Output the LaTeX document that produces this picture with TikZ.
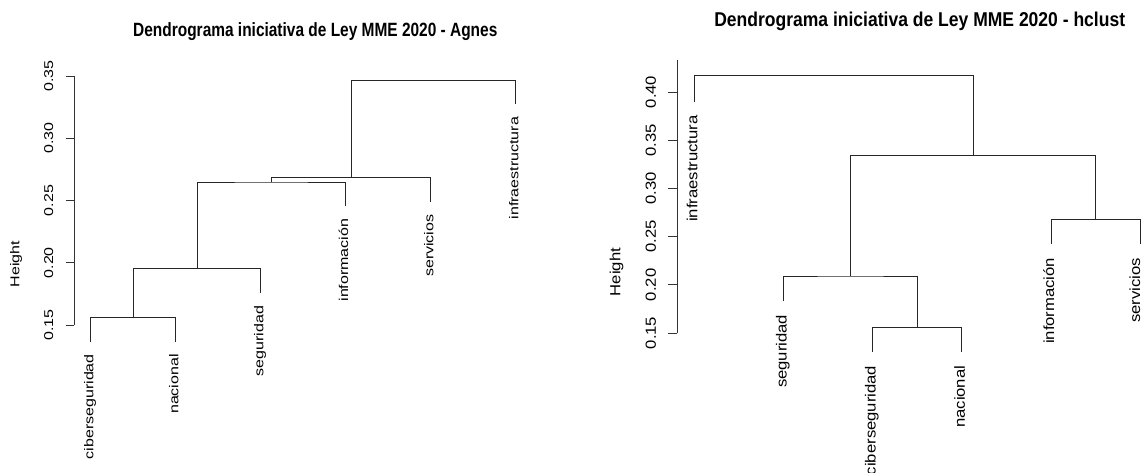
\documentclass[tikz,border=0pt]{standalone}
\usepackage{fontspec}
\setmainfont{Liberation Sans}
\begin{document}
\begin{tikzpicture}[x=0.75pt,y=-0.75pt,
  dline/.style={draw=black!85, line width=0.75pt},
  axline/.style={draw=black!80, line width=0.75pt},
  lblL/.style={font=\fontsize{12}{12}\selectfont, xscale=0.8, rotate=90, anchor=east, inner sep=0pt, text height=0.72em, text depth=0.21em},
  lblR/.style={font=\fontsize{12.5}{12.5}\selectfont, xscale=0.88, rotate=90, anchor=east, inner sep=0pt, text height=0.72em, text depth=0.21em},
  tickL/.style={font=\fontsize{12}{12}\selectfont, xscale=0.8, rotate=90, inner sep=0pt, text height=0.72em, text depth=0pt},
  tickR/.style={font=\fontsize{12.5}{12.5}\selectfont, xscale=0.88, rotate=90, inner sep=0pt, text height=0.72em, text depth=0pt},
  ylabL/.style={tickL, text depth=0.21em},
  ylabR/.style={tickR, text depth=0.21em},
  ttlL/.style={font=\fontsize{14.4}{14.4}\bfseries\selectfont, xscale=0.805, anchor=base, inner sep=0pt},
  ttlR/.style={font=\fontsize{15}{15}\bfseries\selectfont, xscale=0.876, anchor=base, inner sep=0pt}
]
\useasboundingbox[fill=white] (0,0) rectangle (1144,472);

% ---------------- Left: Agnes ----------------
\node[ttlL] (t1) at (315.3,36.5) {Dendrograma iniciativa de Ley MME 2020 - Agnes};
\coordinate (a1top) at (74,76);
\coordinate (a1bot) at (74,325);
\draw[axline] (a1top) -- (a1bot);
\foreach \v/\y [count=\i] in {0.35/76,0.30/138.25,0.25/200.5,0.20/262.75,0.15/325}{
  \coordinate (tk1-\i) at (74,\y);
  \draw[axline] (tk1-\i) -- ++(-8,0);
  \node[tickL] (tl1-\i) at (49.3,\y) {\v};
}
\node[ylabL] (h1) at (16.7,264) {Height};

% leaf ends
\coordinate (e1-cib) at (90.7,341.5);
\coordinate (e1-nac) at (175.7,341.5);
\coordinate (e1-seg) at (260.7,292.5);
\coordinate (e1-inf) at (345.3,206);
\coordinate (e1-ser) at (430.7,201.5);
\coordinate (e1-ifr) at (515.7,104.3);
% labels
\node[lblL] (l1-cib) at (90.7,354) {ciberseguridad};
\node[lblL] (l1-nac) at (175.7,354) {nacional};
\node[lblL] (l1-seg) at (260.7,305.5) {seguridad};
\node[lblL] (l1-inf) at (345.3,218.5) {información};
\node[lblL] (l1-ser) at (430.7,214.3) {servicios};
\node[lblL] (l1-ifr) at (515.7,116.7) {infraestructura};
% merges
\coordinate (m1) at (133.2,317.7);
\coordinate (m2) at (197,268.3);
\coordinate (m3) at (271.2,182);
\coordinate (m4) at (351,177.3);
\coordinate (m5) at (433.4,80.3);
\draw[dline] (e1-cib) |- (m1) -| (e1-nac);
\draw[dline] (m1) |- (m2) -| (e1-seg);
\draw[dline] (m2) |- (m3) -| (e1-inf);
\draw[dline] (m3) |- (m4) -| (e1-ser);
\draw[dline] (m4) |- (m5) -| (e1-ifr);

% ---------------- Right: hclust ----------------
\node[ttlR] (t2) at (919.7,26.5) {Dendrograma iniciativa de Ley MME 2020 - hclust};
\coordinate (a2top) at (677.3,60);
\coordinate (a2bot) at (677.3,333);
\draw[axline] (a2top) -- (a2bot);
\foreach \v/\y [count=\i] in {0.40/92,0.35/140.2,0.30/188.4,0.25/236.6,0.20/284.8,0.15/333}{
  \coordinate (tk2-\i) at (677.3,\y);
  \draw[axline] (tk2-\i) -- ++(-9,0);
  \node[tickR] (tl2-\i) at (651.7,\y) {\v};
}
\node[ylabR] (h2) at (617.3,272) {Height};

\coordinate (e2-ifr) at (694.3,101.7);
\coordinate (e2-seg) at (783.5,301);
\coordinate (e2-cib) at (872.7,352);
\coordinate (e2-nac) at (961.9,352);
\coordinate (e2-inf) at (1051.1,244.3);
\coordinate (e2-ser) at (1140.3,244.3);
\node[lblR] (l2-ifr) at (694.3,115) {infraestructura};
\node[lblR] (l2-seg) at (783.5,314.5) {seguridad};
\node[lblR] (l2-cib) at (872.7,365.5) {ciberseguridad};
\node[lblR] (l2-nac) at (961.9,365.5) {nacional};
\node[lblR] (l2-inf) at (1051.1,257.5) {información};
\node[lblR] (l2-ser) at (1137,257.5) {servicios};
\coordinate (n1) at (917.3,327.3);
\coordinate (n2) at (850.4,276);
\coordinate (n3) at (1095.7,219.3);
\coordinate (n4) at (973,155.7);
\coordinate (n5) at (833.6,75.7);
\draw[dline] (e2-cib) |- (n1) -| (e2-nac);
\draw[dline] (e2-seg) |- (n2) -| (n1);
\draw[dline] (e2-inf) |- (n3) -| (e2-ser);
\draw[dline] (n2) |- (n4) -| (n3);
\draw[dline] (e2-ifr) |- (n5) -| (n4);
\end{tikzpicture}
\end{document}
